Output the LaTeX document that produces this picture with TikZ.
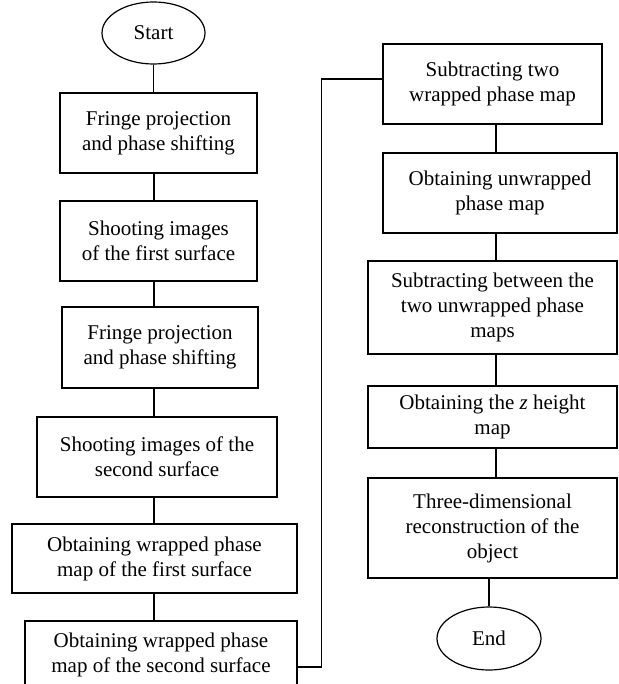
\documentclass[tikz,border=0pt]{standalone}
\usepackage{fontspec}
\setmainfont{Liberation Serif}
\usetikzlibrary{shapes.geometric}
\begin{document}
\begin{tikzpicture}[x=1pt,y=-1pt,
  every node/.style={font=\fontsize{21}{25}\selectfont, align=center, inner sep=0pt},
  box/.style={draw, line width=1.2pt, rectangle},
  term/.style={draw, line width=1.2pt, ellipse},
  link/.style={line width=1.2pt}]
\useasboundingbox (0,0) rectangle (618,684);
\clip (0,0) rectangle (618,684);
% left column
\node[term, minimum width=103pt, minimum height=62pt] (S) at (153.5,33) {Start};
\node[box, minimum width=197pt, minimum height=80pt] (B1) at (158.5,133) {Fringe projection\\and phase shifting};
\node[box, minimum width=197pt, minimum height=80pt] (B2) at (158.5,241) {Shooting images\\of the first surface};
\node[box, minimum width=196pt, minimum height=81pt] (B3) at (160,347.5) {Fringe projection\\and phase shifting};
\node[box, minimum width=240pt, minimum height=80pt] (B4) at (157,457) {Shooting images of the\\second surface};
\node[box, minimum width=285pt, minimum height=69pt] (B5) at (154.5,558.5) {Obtaining wrapped phase\\map of the first surface};
\node[box, minimum width=272pt, minimum height=67pt] (B6) at (161,654.5) {Obtaining wrapped phase\\map of the second surface};
% right column
\node[box, minimum width=219pt, minimum height=80pt] (B7) at (492.5,84) {Subtracting two\\wrapped phase map};
\node[box, minimum width=234pt, minimum height=80pt] (B8) at (500,193) {Obtaining unwrapped\\phase map};
\node[box, minimum width=249pt, minimum height=93pt] (B9) at (492.5,307.5) {Subtracting between the\\two unwrapped phase\\maps};
\node[box, minimum width=249pt, minimum height=62pt] (B10) at (492.5,417) {Obtaining the \textit{z} height\\map};
\node[box, minimum width=249pt, minimum height=100pt] (B11) at (492.5,528) {Three-dimensional\\reconstruction of the\\object};
\node[term, minimum width=104pt, minimum height=63pt] (E) at (489,638.5) {End};
% column guides
\coordinate (cl) at (154,0);
\coordinate (cr) at (496,0);
% connectors
\draw[link] (S.south) -- (S.south |- B1.north);
\draw[link] (B1.south -| cl) -- (B2.north -| cl);
\draw[link] (B2.south -| cl) -- (B3.north -| cl);
\draw[link] (B3.south -| cl) -- (B4.north -| cl);
\draw[link] (B4.south -| cl) -- (B5.north -| cl);
\draw[link] (B5.south -| cl) -- (B6.north -| cl);
\draw[link] ([yshift=-12.5pt]B6.east) -| ([xshift=-61pt,yshift=5pt]B7.west) -- ([yshift=5pt]B7.west);
\draw[link] (B7.south -| cr) -- (B8.north -| cr);
\draw[link] (B8.south -| cr) -- (B9.north -| cr);
\draw[link] (B9.south -| cr) -- (B10.north -| cr);
\draw[link] (B10.south -| cr) -- (B11.north -| cr);
\draw[link] (B11.south -| E.north) -- (E.north);
\end{tikzpicture}
\end{document}
